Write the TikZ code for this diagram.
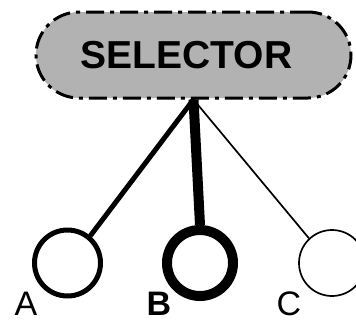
\documentclass[tikz,border=0pt]{standalone}
\usepackage{fontspec}
\setmainfont{Liberation Sans}
\begin{document}
\begin{tikzpicture}[x=1pt,y=-1pt]
\tikzstyle{pill}=[rectangle, draw, fill=black!30, line width=3pt,
                        dash pattern=on 18pt off 6pt on 4pt off 6pt,
                        rounded corners=43pt, minimum width=315pt, minimum height=86pt,
                        font=\fontsize{39}{39}\selectfont\bfseries]
\tikzstyle{vtx}=[circle, draw, fill=white, inner sep=0pt, minimum size=66pt]
\tikzstyle{lbl}=[inner sep=0pt, font=\fontsize{34}{34}\selectfont]
\useasboundingbox (0,0) rectangle (356,322);
	\node[pill] (S) at (193.5,55){\hspace*{-14pt}SELECTOR};
	\node[vtx, line width=5pt] (A) at (67.5,263){};
	\node[vtx, line width=10pt] (B) at (200,263){};
	\node[vtx, line width=1.7pt] (C) at (332,263){};
	\node[lbl] (a) at (26,304){A};
	\node[lbl, font=\fontsize{34}{34}\selectfont\bfseries] (b) at (159,304){B};
	\node[lbl] (c) at (289,304){C};
\draw[line width=5pt] (S.south)--(A.50);
\draw[line width=10pt] (S.south)--(B.north);
\draw[line width=1.7pt] (S.south)--(C.133);
\end{tikzpicture}
\end{document}
